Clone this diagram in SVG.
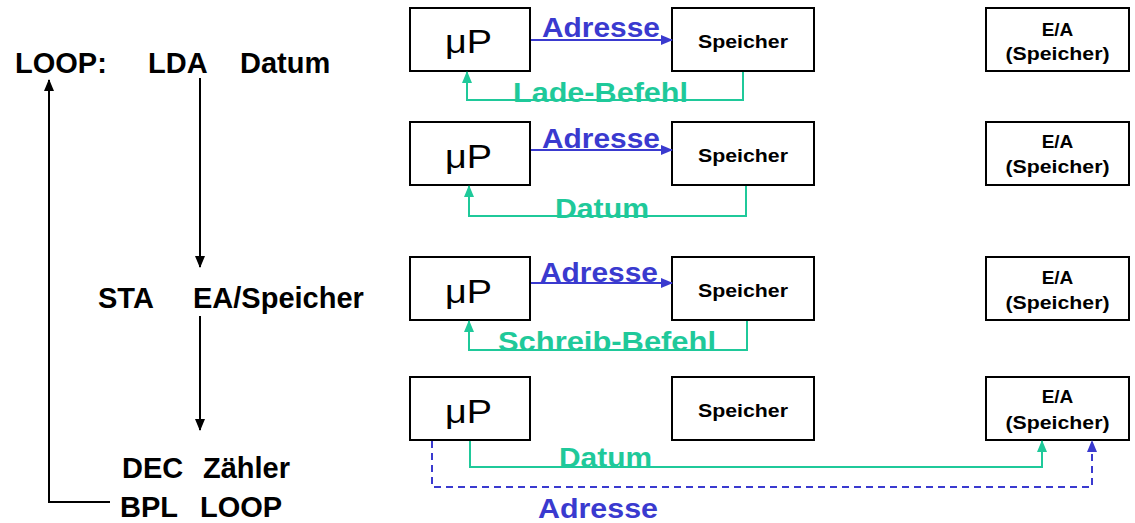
<svg xmlns="http://www.w3.org/2000/svg" width="1135" height="523" viewBox="0 0 1135 523">
<style>
.box{fill:#fff;stroke:#000;stroke-width:2}
.code{font-family:"Liberation Sans",Arial,sans-serif;font-weight:bold;font-size:29px;fill:#000}
.mu{font-family:"Liberation Sans",Arial,sans-serif;font-size:34px;fill:#000}
.nm{font-family:"Liberation Sans",Arial,sans-serif;font-weight:bold;font-size:19px;fill:#000;text-anchor:middle}
.lb{font-family:"Liberation Sans",Arial,sans-serif;font-weight:bold;font-size:28px}
.blue{fill:#3a3acf}
.green{fill:#1fc99a}
.cb{fill:none;stroke:#3a3acf;stroke-width:2}
.cg{fill:none;stroke:#1fc99a;stroke-width:2}
.ck{fill:none;stroke:#000;stroke-width:2}
</style>
<defs>
<marker id="ab" markerUnits="userSpaceOnUse" markerWidth="12" markerHeight="10" refX="11" refY="5" orient="auto"><path d="M0,0 L12,5 L0,10 z" fill="#3a3acf"/></marker>
<marker id="ag" markerUnits="userSpaceOnUse" markerWidth="12" markerHeight="10" refX="11" refY="5" orient="auto"><path d="M0,0 L12,5 L0,10 z" fill="#1fc99a"/></marker>
<marker id="ak" markerUnits="userSpaceOnUse" markerWidth="12" markerHeight="10" refX="11" refY="5" orient="auto"><path d="M0,0 L12,5 L0,10 z" fill="#000"/></marker>
</defs>

<g id="code">
<text class="code" x="15" y="73">LOOP:</text>
<text class="code" x="148" y="73">LDA</text>
<text class="code" x="240" y="73">Datum</text>
<text class="code" x="98" y="308">STA</text>
<text class="code" x="193" y="308">EA/Speicher</text>
<text class="code" x="122" y="478">DEC</text>
<text class="code" x="203" y="478">Zähler</text>
<text class="code" x="120" y="517">BPL</text>
<text class="code" x="200" y="517">LOOP</text>
</g>

<g id="row1">
<g id="mp1"><rect class="box" x="410" y="8" width="120" height="63"/><text class="mu" x="445" y="53" textLength="47" lengthAdjust="spacingAndGlyphs">μP</text></g>
<g id="sp1"><rect class="box" x="672" y="8" width="142" height="63"/><text class="nm" x="743" y="48" textLength="90" lengthAdjust="spacingAndGlyphs">Speicher</text></g>
<g id="ea1"><rect class="box" x="986" y="8" width="143" height="63"/><text class="nm" x="1057.5" y="36">E/A</text><text class="nm" x="1057.5" y="60" textLength="104" lengthAdjust="spacingAndGlyphs">(Speicher)</text></g>
</g>
<g id="row2">
<g id="mp2"><rect class="box" x="410" y="122" width="120" height="63"/><text class="mu" x="445" y="168" textLength="47" lengthAdjust="spacingAndGlyphs">μP</text></g>
<g id="sp2"><rect class="box" x="672" y="122" width="142" height="63"/><text class="nm" x="743" y="162" textLength="90" lengthAdjust="spacingAndGlyphs">Speicher</text></g>
<g id="ea2"><rect class="box" x="986" y="122" width="143" height="63"/><text class="nm" x="1057.5" y="148">E/A</text><text class="nm" x="1057.5" y="173" textLength="104" lengthAdjust="spacingAndGlyphs">(Speicher)</text></g>
</g>
<g id="row3">
<g id="mp3"><rect class="box" x="410" y="257" width="120" height="63"/><text class="mu" x="445" y="303" textLength="47" lengthAdjust="spacingAndGlyphs">μP</text></g>
<g id="sp3"><rect class="box" x="672" y="257" width="142" height="63"/><text class="nm" x="743" y="297" textLength="90" lengthAdjust="spacingAndGlyphs">Speicher</text></g>
<g id="ea3"><rect class="box" x="986" y="257" width="143" height="63"/><text class="nm" x="1057.5" y="284">E/A</text><text class="nm" x="1057.5" y="309" textLength="104" lengthAdjust="spacingAndGlyphs">(Speicher)</text></g>
</g>
<g id="row4">
<g id="mp4"><rect class="box" x="410" y="377" width="120" height="63"/><text class="mu" x="445" y="423" textLength="47" lengthAdjust="spacingAndGlyphs">μP</text></g>
<g id="sp4"><rect class="box" x="672" y="377" width="142" height="63"/><text class="nm" x="743" y="417" textLength="90" lengthAdjust="spacingAndGlyphs">Speicher</text></g>
<g id="ea4"><rect class="box" x="986" y="377" width="143" height="63"/><text class="nm" x="1057.5" y="403">E/A</text><text class="nm" x="1057.5" y="429" textLength="104" lengthAdjust="spacingAndGlyphs">(Speicher)</text></g>
</g>

<g id="connectors">
<path class="ck" d="M200,78 V267" marker-end="url(#ak)"/>
<path class="ck" d="M200,316 V430" marker-end="url(#ak)"/>
<path class="ck" d="M110,502 H49 V80" marker-end="url(#ak)"/>

<path class="cb" d="M531,40 H672" marker-end="url(#ab)"/>
<path class="cg" d="M743,72 V100 H467 V72" marker-end="url(#ag)"/>
<path class="cb" d="M531,150 H672" marker-end="url(#ab)"/>
<path class="cg" d="M746,186 V216 H469 V186" marker-end="url(#ag)"/>
<path class="cb" d="M531,283 H672" marker-end="url(#ab)"/>
<path class="cg" d="M747,321 V350 H469 V321" marker-end="url(#ag)"/>
<path class="cg" d="M470,441 V467 H1042 V441" marker-end="url(#ag)"/>
<path class="cb" d="M432,441 V487 H1092 V441" stroke-dasharray="7,5" marker-end="url(#ab)"/>

<text class="lb blue" x="542" y="37" textLength="118" lengthAdjust="spacingAndGlyphs">Adresse</text>
<text class="lb green" x="513" y="102" textLength="175" lengthAdjust="spacingAndGlyphs">Lade-Befehl</text>
<text class="lb blue" x="542" y="148" textLength="118" lengthAdjust="spacingAndGlyphs">Adresse</text>
<text class="lb green" x="555" y="218" textLength="94" lengthAdjust="spacingAndGlyphs">Datum</text>
<text class="lb blue" x="540" y="282" textLength="118" lengthAdjust="spacingAndGlyphs">Adresse</text>
<text class="lb green" x="498" y="351" textLength="218" lengthAdjust="spacingAndGlyphs">Schreib-Befehl</text>
<text class="lb green" x="559" y="467" textLength="93" lengthAdjust="spacingAndGlyphs">Datum</text>
<text class="lb blue" x="538" y="518" textLength="120" lengthAdjust="spacingAndGlyphs">Adresse</text>
</g>
</svg>
